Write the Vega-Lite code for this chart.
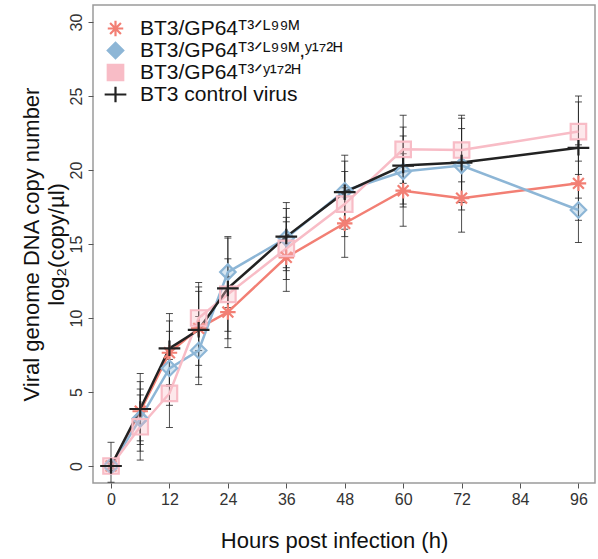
{
  "$schema": "https://vega.github.io/schema/vega-lite/v6.json",
  "width": 502,
  "height": 478,
  "autosize": {"type": "none"},
  "padding": {"left": 93, "top": 5, "right": 3, "bottom": 76},
  "background": "white",
  "config": {
    "font": "Liberation Sans",
    "view": {"stroke": "#9a9a9a", "strokeWidth": 1.5},
    "axis": {"grid": false, "domain": false, "labelFont": "Liberation Sans", "titleFont": "Liberation Sans", "labelColor": "#333", "titleColor": "#111", "tickColor": "#555", "labelFontSize": 16, "titleFontSize": 22, "titleFontWeight": "normal"},
    "legend": {"labelFontSize": 21, "labelFont": "Liberation Sans", "labelColor": "#111", "symbolSize": 240, "symbolStrokeWidth": 2.2, "rowPadding": -3, "gridAlign": "none", "labelOffset": 14, "labelLimit": 400}
  },
  "data": {"values": [
    {"t": 0, "s": "L99M", "v": 0, "lo": -0.3, "hi": 0.3},
    {"t": 6, "s": "L99M", "v": 3.7, "lo": 1.7, "hi": 5.7},
    {"t": 12, "s": "L99M", "v": 7.65, "lo": 5.4, "hi": 9.8},
    {"t": 18, "s": "L99M", "v": 9.3, "lo": 6.8, "hi": 11.8},
    {"t": 24, "s": "L99M", "v": 10.4, "lo": 8.0, "hi": 12.8},
    {"t": 36, "s": "L99M", "v": 14.1, "lo": 11.8, "hi": 16.5},
    {"t": 48, "s": "L99M", "v": 16.4, "lo": 14.1, "hi": 18.8},
    {"t": 60, "s": "L99M", "v": 18.6, "lo": 16.2, "hi": 21.1},
    {"t": 72, "s": "L99M", "v": 18.1, "lo": 15.8, "hi": 20.5},
    {"t": 96, "s": "L99M", "v": 19.1, "lo": 16.6, "hi": 21.7},
    {"t": 0, "s": "L99M,Y172H", "v": 0, "lo": -0.3, "hi": 0.3},
    {"t": 6, "s": "L99M,Y172H", "v": 3.2, "lo": 1.0, "hi": 5.2},
    {"t": 12, "s": "L99M,Y172H", "v": 6.6, "lo": 4.1, "hi": 9.1},
    {"t": 18, "s": "L99M,Y172H", "v": 7.8, "lo": 5.5, "hi": 10.1},
    {"t": 24, "s": "L99M,Y172H", "v": 13.1, "lo": 10.7, "hi": 15.5},
    {"t": 36, "s": "L99M,Y172H", "v": 15.4, "lo": 13.4, "hi": 17.4},
    {"t": 48, "s": "L99M,Y172H", "v": 18.6, "lo": 16.6, "hi": 20.6},
    {"t": 60, "s": "L99M,Y172H", "v": 19.9, "lo": 17.5, "hi": 22.3},
    {"t": 72, "s": "L99M,Y172H", "v": 20.3, "lo": 17.8, "hi": 22.8},
    {"t": 96, "s": "L99M,Y172H", "v": 17.3, "lo": 15.1, "hi": 19.7},
    {"t": 0, "s": "Y172H", "v": 0, "lo": -0.3, "hi": 0.3},
    {"t": 6, "s": "Y172H", "v": 2.65, "lo": 0.4, "hi": 4.8},
    {"t": 12, "s": "Y172H", "v": 4.9, "lo": 2.6, "hi": 7.2},
    {"t": 18, "s": "Y172H", "v": 10.0, "lo": 7.8, "hi": 12.1},
    {"t": 24, "s": "Y172H", "v": 11.6, "lo": 9.1, "hi": 14.0},
    {"t": 36, "s": "Y172H", "v": 14.7, "lo": 12.6, "hi": 16.8},
    {"t": 48, "s": "Y172H", "v": 17.7, "lo": 15.5, "hi": 19.9},
    {"t": 60, "s": "Y172H", "v": 21.4, "lo": 19.1, "hi": 23.7},
    {"t": 72, "s": "Y172H", "v": 21.35, "lo": 19.2, "hi": 23.5},
    {"t": 96, "s": "Y172H", "v": 22.6, "lo": 20.6, "hi": 24.6},
    {"t": 0, "s": "control", "v": 0, "lo": -1.1, "hi": 1.6},
    {"t": 6, "s": "control", "v": 3.85, "lo": 1.45, "hi": 6.25},
    {"t": 12, "s": "control", "v": 7.95, "lo": 5.5, "hi": 10.3},
    {"t": 18, "s": "control", "v": 9.2, "lo": 6.0, "hi": 12.4},
    {"t": 24, "s": "control", "v": 12.0, "lo": 8.6, "hi": 15.4},
    {"t": 36, "s": "control", "v": 15.5, "lo": 13.2, "hi": 17.8},
    {"t": 48, "s": "control", "v": 18.5, "lo": 16.0, "hi": 21.0},
    {"t": 60, "s": "control", "v": 20.3, "lo": 17.7, "hi": 22.9},
    {"t": 72, "s": "control", "v": 20.5, "lo": 17.3, "hi": 23.7},
    {"t": 96, "s": "control", "v": 21.5, "lo": 18.1, "hi": 25.0}
  ]},
  "encoding": {
    "x": {"field": "t", "type": "quantitative", "scale": {"domain": [-3.7, 99.4], "nice": false, "zero": false},
      "axis": {"values": [0, 12, 24, 36, 48, 60, 72, 84, 96], "title": "Hours post infection (h)", "tickSize": 5, "labelPadding": 3, "titlePadding": 23, "titleX": 241}}
  },
  "layer": [
    {
      "mark": {"type": "rule", "color": "#222", "strokeWidth": 1, "opacity": 0.8},
      "encoding": {
        "y": {"field": "lo", "type": "quantitative", "scale": {"domain": [-1.15, 31.15], "nice": false, "zero": false},
          "axis": {"values": [0, 5, 10, 15, 20, 25, 30], "labelAngle": -90, "labelAlign": "center", "labelBaseline": "bottom", "tickSize": 5, "labelPadding": 4, "titlePadding": 0,
            "title": ["Viral genome DNA copy number", "log₂(copy/µl)"], "titleLineHeight": 25}},
        "y2": {"field": "hi"}
      }
    },
    {
      "mark": {"type": "tick", "orient": "horizontal", "color": "#222", "size": 7, "thickness": 1, "opacity": 0.8},
      "encoding": {"y": {"field": "lo", "type": "quantitative"}}
    },
    {
      "mark": {"type": "tick", "orient": "horizontal", "color": "#222", "size": 7, "thickness": 1, "opacity": 0.8},
      "encoding": {"y": {"field": "hi", "type": "quantitative"}}
    },
    {
      "mark": {"type": "line", "strokeWidth": 2.5},
      "encoding": {
        "y": {"field": "v", "type": "quantitative"},
        "stroke": {"field": "s", "type": "nominal", "scale": {"domain": ["L99M", "L99M,Y172H", "Y172H", "control"], "range": ["#F27F74", "#8DB6D6", "#F8BCC6", "#222222"]}, "title": null}
      }
    },
    {
      "mark": {"type": "point", "filled": true, "fillOpacity": 0.35, "strokeWidth": 2.2, "size": 240, "opacity": 1},
      "encoding": {
        "y": {"field": "v", "type": "quantitative"},
        "fill": {"field": "s", "type": "nominal", "scale": {"domain": ["L99M", "L99M,Y172H", "Y172H", "control"], "range": ["#F27F74", "#8DB6D6", "#F8BCC6", "#222222"]}, "title": null},
        "stroke": {"field": "s", "type": "nominal", "title": null},
        "shape": {"field": "s", "type": "nominal", "scale": {"domain": ["L99M", "L99M,Y172H", "Y172H", "control"], "range": ["M-1,0L1,0M0,-1L0,1M-0.7,-0.7L0.7,0.7M-0.7,0.7L0.7,-0.7", "diamond", "square", "M-1.4,0L1.4,0M0,-1L0,1"]}, "title": null,
          "legend": {"orient": "none", "legendX": 12, "legendY": 13,
            "labelExpr": "datum.value == 'L99M' ? 'BT3/GP64ᵀ³ᐟᴸ⁹⁹ᴹ' : datum.value == 'L99M,Y172H' ? 'BT3/GP64ᵀ³ᐟᴸ⁹⁹ᴹ,ʸ¹⁷²ᴴ' : datum.value == 'Y172H' ? 'BT3/GP64ᵀ³ᐟʸ¹⁷²ᴴ' : 'BT3 control  virus'"}}
      }
    }
  ]
}
